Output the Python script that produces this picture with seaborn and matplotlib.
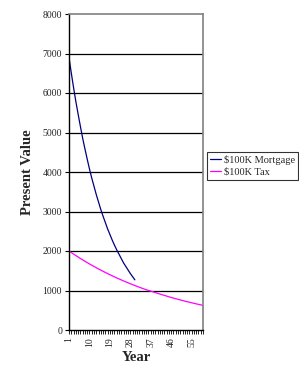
import matplotlib
matplotlib.use("Agg")
import matplotlib.pyplot as plt
import seaborn as sns
import pandas as pd

mortgage_years = list(range(1, 31))
mortgage_values = [6900, 6510, 6140, 5790, 5470, 5160, 4860, 4590, 4330, 4080,
                   3850, 3640, 3430, 3240, 3050, 2880, 2720, 2560, 2420, 2280,
                   2150, 2030, 1920, 1810, 1700, 1610, 1520, 1430, 1350, 1270]
tax_years = list(range(1, 61))
tax_values = [2000, 1961, 1922, 1885, 1848, 1811, 1776, 1741, 1707, 1673,
              1641, 1608, 1577, 1546, 1516, 1486, 1457, 1428, 1400, 1373,
              1346, 1319, 1293, 1268, 1243, 1219, 1195, 1171, 1148, 1126,
              1104, 1082, 1061, 1040, 1020, 1000, 985, 966, 947, 929,
              911, 893, 876, 858, 841, 824, 808, 792, 776, 761,
              746, 731, 717, 703, 689, 675, 662, 649, 636, 623]
series_names = ["$100K Mortgage", "$100K Tax"]
xtick_labels = [1, 10, 19, 28, 37, 46, 55]
ytick_values = [0, 1000, 2000, 3000, 4000, 5000, 6000, 7000, 8000]

df = pd.concat([
    pd.DataFrame({"Year": mortgage_years, "Present Value": mortgage_values, "Series": series_names[0]}),
    pd.DataFrame({"Year": tax_years, "Present Value": tax_values, "Series": series_names[1]}),
])

sns.set_style("white")
plt.rcParams["font.family"] = ["Liberation Serif", "DejaVu Serif"]

fig = plt.figure(figsize=(2.99, 3.70), dpi=100)
ax = fig.add_axes([69/299, 40/370, (203-69)/299, (330-14)/370])

sns.lineplot(data=df, x="Year", y="Present Value", hue="Series",
             palette={series_names[0]: "#000080", series_names[1]: "#FF00FF"},
             linewidth=0.9, ax=ax, legend=False)

ax.set_xlim(1, 60)
ax.set_ylim(0, 8000)
ax.set_yticks(ytick_values)
ax.set_yticklabels([str(v) for v in ytick_values], fontsize=7)
ax.set_xticks(xtick_labels)
ax.set_xticklabels([str(v) for v in xtick_labels], fontsize=7, rotation=90)
ax.set_xticks(tax_years, minor=True)
ax.tick_params(axis="x", which="both", direction="out", length=3, width=0.6, color="black", pad=2)
ax.tick_params(axis="y", direction="out", length=3, width=0.8, color="black", pad=2)
ax.tick_params(axis="both", which="both", bottom=True, left=True)

for v in ytick_values[1:-1]:
    ax.axhline(v, color="black", linewidth=0.9, zorder=0)

ax.spines["left"].set_color("black")
ax.spines["bottom"].set_color("black")
ax.spines["left"].set_linewidth(1.0)
ax.spines["bottom"].set_linewidth(1.0)
ax.spines["top"].set_color("#808080")
ax.spines["right"].set_color("#808080")
ax.spines["top"].set_linewidth(1.2)
ax.spines["right"].set_linewidth(1.2)

ax.set_xlabel("Year", fontsize=10.5, fontweight="bold", labelpad=3)
ax.set_ylabel("Present Value", fontsize=10.5, fontweight="bold", labelpad=6)

handles = [plt.Line2D([], [], color="#000080", linewidth=0.9),
           plt.Line2D([], [], color="#FF00FF", linewidth=0.9)]
leg = fig.legend(handles, series_names, loc="upper left",
                 bbox_to_anchor=(207/299, (370-152)/370), fontsize=7.5,
                 frameon=True, fancybox=False, handlelength=1.0, handletextpad=0.3,
                 borderpad=0.3, labelspacing=0.2, borderaxespad=0)
leg.get_frame().set_edgecolor("black")
leg.get_frame().set_linewidth(0.8)

fig.savefig("out.png", dpi=100)
